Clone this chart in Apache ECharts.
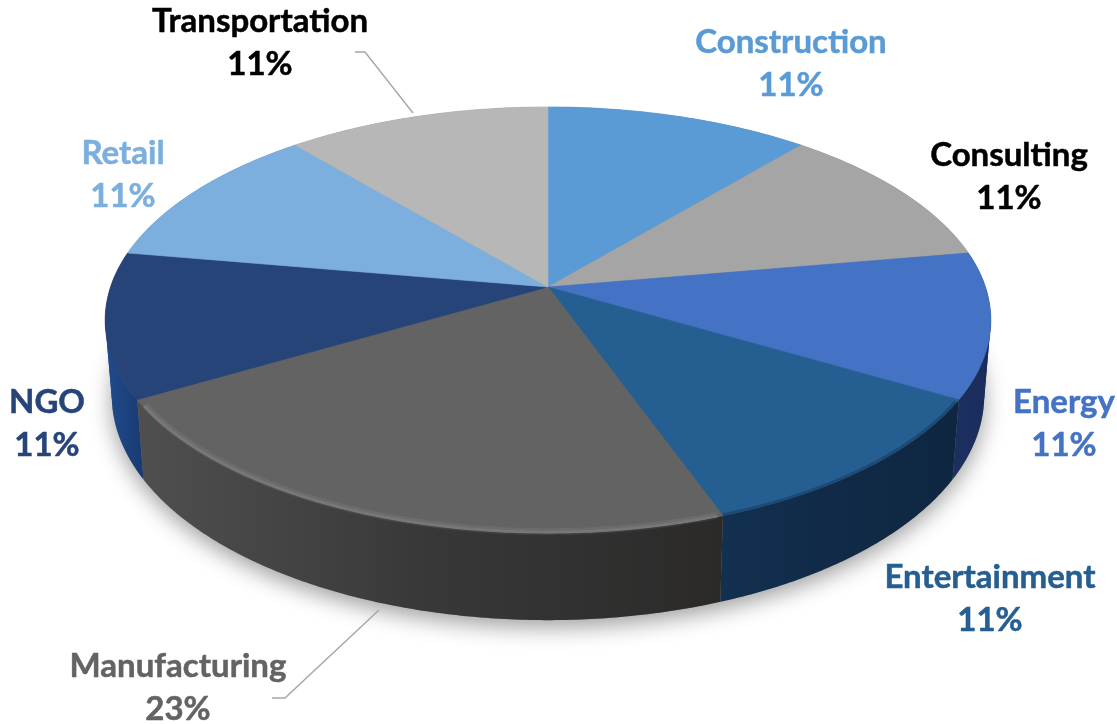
<!DOCTYPE html>
<html><head><meta charset="utf-8">
<style>html,body{margin:0;padding:0;background:#fff}#c{width:1117px;height:724px}</style>
<script src="https://cdn.jsdelivr.net/npm/echarts@6/dist/echarts.min.js"></script>
</head><body><div id="c"></div>
<script>
const categories = ['Construction','Consulting','Energy','Entertainment','Manufacturing','NGO','Retail','Transportation'];
const values = [11.04,11.04,11.04,11.25,22.51,11.04,11.04,11.04];
const topColors = ['#5B9BD5','#A5A5A5','#4472C4','#255E91','#636363','#264478','#7CAFDD','#B7B7B7'];
const wallFrom = ['#3a6a96','#6e6e6e','#1c3060','#12304f','#4f4f4f','#1f4a8c','#4a7aa6','#808080'];
const wallMid = ['#3a6a96','#6e6e6e','#1b2e5d','#102a47','#383838','#1d4480','#4a7aa6','#808080'];
const wallTo = ['#3a6a96','#6e6e6e','#1a2c5a','#0e2640','#2b2a29','#1a3a70','#4a7aa6','#808080'];
const labelColors = ['#5B9BD5','#000000','#4472C4','#255E91','#636363','#264478','#7CAFDD','#000000'];

// layout (styling only)
const labelAt = [[791,64],[1009,177],[1064,424],[990,599],[178,688],[47,424],[123,175],[260,43]];
const leaders = {4:[[272,698],[285,698],[379,610]], 7:[[355,52],[365,52],[413,113]]};
const C = {x:548,y:287,a:437.5,b:208,k:0.155,depth:73.5,shrink:0.985,warp:0.015};

const total = values.reduce((s,v)=>s+v,0);
const starts = [];values.reduce((s,v,i)=>(starts[i]=s,s+v),0);
const ang = v => v/total*Math.PI*2;
function proj(t0,r,lower){
  const t=t0+C.warp*Math.sin(t0);
  const u=Math.sin(t)*r, v=-Math.cos(t)*r, w=1-C.k*v;
  const a=lower?C.a*C.shrink:C.a;
  return [C.x+a*u/w, C.y+C.b*v/w+(lower?C.depth/w:0)];
}
function arc(t0,t1,r,lower){
  const n=Math.max(4,Math.ceil((t1-t0)/0.01)),p=[];
  for(let i=0;i<=n;i++)p.push(proj(t0+(t1-t0)*i/n,r,lower));
  return p;
}
function range(i){const t0=ang(starts[i]);return [t0,t0+ang(values[i])];}

function renderShadow(){
  const lo=arc(0,Math.PI*2,1,true);
  return {type:'polygon',silent:true,shape:{points:lo},style:{fill:'#888',shadowBlur:22,shadowColor:'rgba(0,0,0,0.38)',shadowOffsetY:7}};
}
function renderWall(params){
  const i=params.dataIndex,[t0,t1]=range(i);
  const hi=arc(t0,t1,1,false),lo=arc(t0,t1,1,true);
  const xs=hi.concat(lo).map(p=>p[0]),x0=Math.min(...xs),x1=Math.max(...xs);
  const fill=new echarts.graphic.LinearGradient(x0,0,x1,0,[{offset:0,color:wallFrom[i]},{offset:0.5,color:wallMid[i]},{offset:1,color:wallTo[i]}],true);
  const kids=[{type:'polygon',silent:true,shape:{points:hi.concat(lo.slice().reverse())},style:{fill}}];
  // side silhouette: the straight tangent joining top rim and bottom rim
  const te0=Math.PI-Math.acos(C.k);
  [te0,Math.PI*2-te0].forEach(te=>{
    if(te>t0+0.2&&te<t1-0.2){
      [-0.2,0.2].forEach(d=>{
        kids.push({type:'polygon',silent:true,shape:{points:[proj(te,1,false),proj(te+d,1,false),proj(te+d,1,true),proj(te,1,true)]},style:{fill}});
      });
    }
  });
  return {type:'group',children:kids};
}
function renderTop(params){
  const i=params.dataIndex,[t0,t1]=range(i);
  const pts=[[C.x,C.y]].concat(arc(t0,t1,1,false));
  const kids=[{type:'polygon',silent:true,shape:{points:pts},style:{fill:topColors[i],stroke:topColors[i],lineWidth:0.6}}];
  if(i===4){
    kids.push({type:'polyline',silent:true,shape:{points:arc(t0+0.01,t1-0.03,0.995,false)},style:{fill:null,stroke:'rgba(255,255,255,0.06)',lineWidth:7}});
    kids.push({type:'polyline',silent:true,shape:{points:arc(t0+0.01,t1-0.03,0.997,false)},style:{fill:null,stroke:'rgba(255,255,255,0.08)',lineWidth:3}});
  }
  if(i===3){
    kids.push({type:'polyline',silent:true,shape:{points:arc(t0+0.01,t1,0.997,false)},style:{fill:null,stroke:'rgba(10,30,55,0.3)',lineWidth:3}});
  }
  return {type:'group',children:kids};
}
function renderLabel(params){
  const i=params.dataIndex,kids=[];
  kids.push({type:'text',silent:true,style:{x:labelAt[i][0],y:labelAt[i][1],text:categories[i]+'\n'+Math.round(values[i])+'%',
    fill:labelColors[i],stroke:labelColors[i],lineWidth:0.5,font:'bold 33px Lato',lineHeight:43,align:'center',verticalAlign:'middle'}});
  if(leaders[i])kids.push({type:'polyline',silent:true,shape:{points:leaders[i]},style:{fill:null,stroke:'#a6a6a6',lineWidth:1.4}});
  return {type:'group',children:kids};
}
const rows=categories.map((c,i)=>({name:c,value:values[i]}));
const chart=echarts.init(document.getElementById('c'),null,{renderer:'canvas'});
chart.setOption({
  animation:false,
  backgroundColor:'#fff',
  series:[
    {type:'custom',coordinateSystem:'none',z:1,renderItem:renderShadow,data:[{name:'base',value:total}]},
    {type:'custom',coordinateSystem:'none',z:2,renderItem:renderWall,data:rows},
    {type:'custom',coordinateSystem:'none',z:3,renderItem:renderTop,data:rows},
    {type:'custom',coordinateSystem:'none',z:4,renderItem:renderLabel,data:rows}
  ]
});
</script></body></html>
